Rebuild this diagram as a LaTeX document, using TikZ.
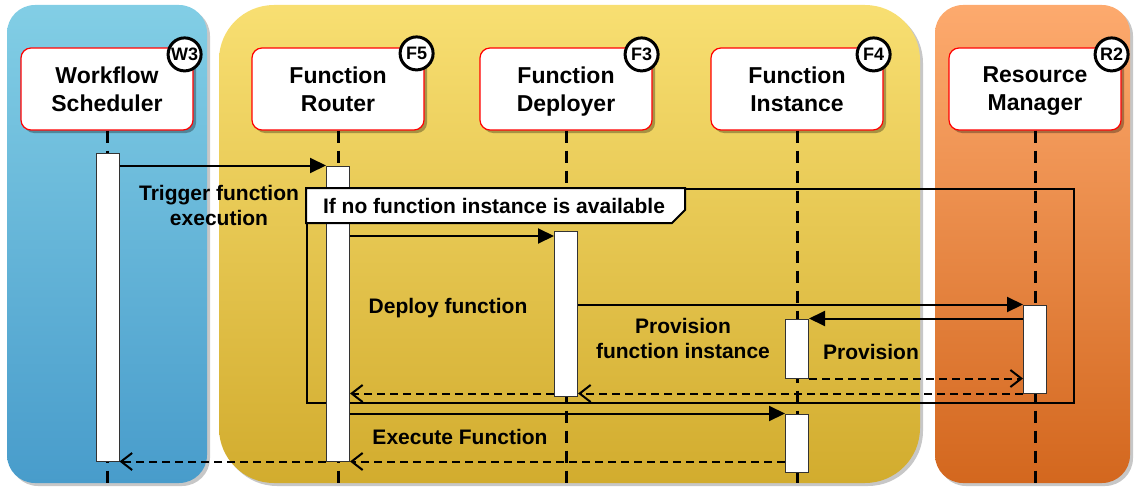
\documentclass[tikz,border=0pt]{standalone}
\usepackage{fontspec}
\setmainfont{Liberation Sans}
\usetikzlibrary{positioning,arrows.meta,calc,shadows}

% panel shades
\definecolor{wsTop}{HTML}{82CEE5}
\definecolor{wsBot}{HTML}{489CCB}
\definecolor{fnTop}{HTML}{F8DF72}
\definecolor{fnBot}{HTML}{D2AC2E}
\definecolor{rmTop}{HTML}{FDAA6E}
\definecolor{rmBot}{HTML}{D3671E}

\begin{document}
\begin{tikzpicture}[
        x=1pt, y=-1pt,
        % background lanes
        panel/.style={draw=none},
        panelshadow/.style={fill=black!22, xshift=3pt, yshift=-3pt},
        % participant boxes
        actor/.style={
            draw=red, line width=1.2pt, fill=white,
            rounded corners=10pt,
            minimum width=172pt, minimum height=82pt,
            align=center, text depth=0pt,
            font=\bfseries\fontsize{23}{28}\selectfont,
            drop shadow={shadow xshift=3pt, shadow yshift=-3pt, fill=black, opacity=0.3}
        },
        badge/.style={
            circle, draw=black, line width=3pt, fill=white,
            minimum size=33pt, inner sep=0pt,
            font=\bfseries\fontsize{18}{18}\selectfont
        },
        lifeline/.style={line width=3pt, dash pattern=on 12pt off 8pt},
        actbar/.style={draw=black!80, line width=1pt, fill=white, minimum width=23pt, inner sep=0pt},
        % messages
        msg/.style={line width=2pt, -{Triangle[length=16pt, width=15pt]}},
        reply/.style={line width=2pt, dash pattern=on 8pt off 5pt, -{Straight Barb[length=11pt, width=17pt]}},
        msglabel/.style={align=center, inner sep=0pt, font=\bfseries\fontsize{21}{25}\selectfont},
        optframe/.style={draw=black, line width=2pt, minimum width=767pt, minimum height=214pt, inner sep=0pt}
    ]
    \useasboundingbox (0,0) rectangle (1134,487);

    % --- LANES ---
    \fill[panelshadow, rounded corners=28pt] (7,5) rectangle (207,483);
    \path[panel, top color=wsTop, bottom color=wsBot, rounded corners=28pt] (7,5) rectangle (207,483);

    \fill[panelshadow, rounded corners=55pt] (219,5) rectangle (920,483);
    \path[panel, top color=fnTop, bottom color=fnBot, rounded corners=55pt] (219,5) rectangle (920,483);

    \fill[panelshadow, rounded corners=28pt] (935,5) rectangle (1130,483);
    \path[panel, top color=rmTop, bottom color=rmBot, rounded corners=28pt] (935,5) rectangle (1130,483);

    % --- PARTICIPANTS ---
    \node[actor] (ws) at (107,89) {Workflow\\Scheduler};
    \node[actor] (fr) at (338,89) {Function\\Router};
    \node[actor] (fd) at (566,89) {Function\\Deployer};
    \node[actor] (fi) at (797,89) {Function\\Instance};
    \node[actor] (rm) at (1035,89) {Resource\\Manager};

    \node[badge] at ($(ws.north east)+(-9,7)$) {W3};
    \node[badge] at ($(fr.north east)+(-8,6)$) {F5};
    \node[badge] at ($(fd.north east)+(-11,7)$) {F3};
    \node[badge] at ($(fi.north east)+(-10,7)$) {F4};
    \node[badge] at ($(rm.north east)+(-10,7)$) {R2};

    % --- LIFELINES ---
    \coordinate (floor) at (0,483);
    \foreach \p in {ws,fr,fd,fi,rm}
        \draw[lifeline] (\p.south) -- (\p.south |- floor);

    % optional block round the deployment
    \node[optframe] (opt) at (690.5,296) {};

    % --- ACTIVATIONS ---
    \node[actbar, minimum height=308pt] (wsAct) at (107.5,307) {};
    \node[actbar, minimum height=295pt] (frAct) at (338,313.5) {};
    \node[actbar, minimum height=165pt] (fdAct) at (566,313.5) {};
    \node[actbar, minimum height=59pt] (fiAct1) at (797,348.5) {};
    \node[actbar, minimum height=58pt] (fiAct2) at (797,443) {};
    \node[actbar, minimum height=88pt] (rmAct) at (1035,349) {};

    % guard tab of the block
    \draw[line width=2pt, fill=white] (opt.north west) -- ++(379,0) -- ++(0,22) -- ++(-13,13) -- ++(-366,0) -- cycle;
    \node[msglabel] at ($(opt.north west)+(188,18)$) {If no function instance is available};

    % --- MESSAGES ---
    \coordinate (row2) at (0,236);
    \draw[msg] (wsAct.east |- frAct.north) -- (frAct.north west);
    \draw[msg] (frAct.east |- row2) -- (fdAct.west |- row2);
    \draw[msg] (fdAct.east |- rmAct.north) -- (rmAct.north west);
    \draw[msg] (rmAct.west |- fiAct1.north) -- (fiAct1.north east);
    \draw[reply] (fiAct1.south east) -- (rmAct.west |- fiAct1.south);
    \draw[reply] (rmAct.south west) -- (fdAct.east |- rmAct.south);
    \draw[reply] (fdAct.west |- rmAct.south) -- (frAct.east |- rmAct.south);
    \draw[msg] (frAct.east |- fiAct2.north) -- (fiAct2.north west);
    \draw[reply] (fiAct2.west |- frAct.south) -- (frAct.south east);
    \draw[reply] (frAct.south west) -- (wsAct.south east);

    \node[msglabel] at (219,205) {Trigger function\\execution};
    \node[msglabel] at (448,308) {Deploy function};
    \node[msglabel] at (683,338) {Provision\\function instance};
    \node[msglabel] at (871,352) {Provision};
    \node[msglabel] at (460,437) {Execute Function};

\end{tikzpicture}
\end{document}
